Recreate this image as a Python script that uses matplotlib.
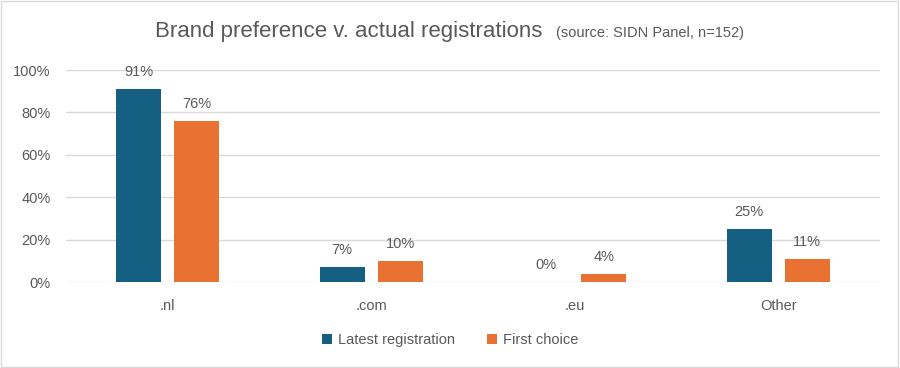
import numpy as np
import matplotlib.pyplot as plt
from matplotlib.patches import Rectangle

categories = [".nl", ".com", ".eu", "Other"]
latest = [91, 7, 0, 25]
first_choice = [76, 10, 4, 11]
series_names = ["Latest registration", "First choice"]

blue = "#156082"
orange = "#E97132"
grey = "#595959"

plt.rcParams['font.family'] = ['Liberation Sans', 'DejaVu Sans']

fig = plt.figure(figsize=(9, 3.68), dpi=100)
ax = fig.add_axes([66/900, 1-282/368, 814/900, 212/368])

x = np.arange(len(categories))
w = 0.22
off = 0.143
b1 = ax.bar(x - off, latest, w, color=blue, label=series_names[0], zorder=3)
b2 = ax.bar(x + off, first_choice, w, color=orange, label=series_names[1], zorder=3)

for bars, vals in [(b1, latest), (b2, first_choice)]:
    for b, v in zip(bars, vals):
        ax.annotate(f"{v}%", (b.get_x() + b.get_width()/2, v), xytext=(0, 7),
                    textcoords="offset points", ha="center", va="bottom",
                    fontsize=10.5, color=grey)

ax.set_xlim(-0.5, 3.5)
ax.set_ylim(0, 100)
ax.set_yticks(range(0, 101, 20))
ax.set_yticklabels([f"{t}%" for t in range(0, 101, 20)])
ax.set_xticks(x)
ax.set_xticklabels(categories)
ax.tick_params(length=0, labelsize=10.5, colors=grey)
ax.tick_params(axis="x", pad=12)
ax.tick_params(axis="y", pad=11)
ax.grid(axis="y", color="#D9D9D9", linewidth=1, zorder=0)
for s in ax.spines.values():
    s.set_visible(False)

fig.text(155/900, 1-32/368, "Brand preference v. actual registrations", ha="left",
         va="center", fontsize=16, color=grey)
fig.text(556/900, 1-33/368, "(source: SIDN Panel, n=152)", ha="left", va="center",
         fontsize=10.5, color=grey)

fig.legend(loc="center", bbox_to_anchor=(0.5, 1-340/368), ncol=2, frameon=False,
           fontsize=10.5, labelcolor=grey, handlelength=0.7, handleheight=0.7,
           handletextpad=0.4, columnspacing=2.2)

fig.patches.append(Rectangle((0.001, 0.002), 0.997, 0.995, transform=fig.transFigure,
                             fill=False, edgecolor="#D9D9D9", linewidth=1))

fig.savefig("out.png", dpi=100)
